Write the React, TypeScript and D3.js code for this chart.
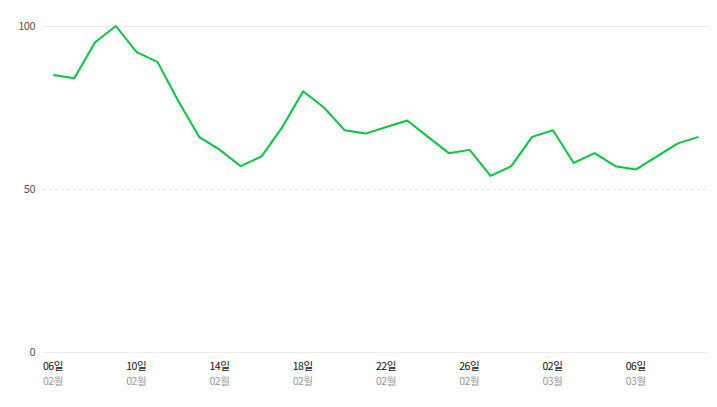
import * as d3 from 'd3'
import { useEffect, useRef } from 'react'

const fullWidth = 717
const fullHeight = 407
const margin = { top: 26, right: 8, bottom: 55, left: 43 }
const width = fullWidth - margin.left - margin.right
const height = fullHeight - margin.top - margin.bottom

// 2022-02-06 .. 2022-03-09, one point per day
const days = [
  '02-06', '02-07', '02-08', '02-09', '02-10', '02-11', '02-12', '02-13',
  '02-14', '02-15', '02-16', '02-17', '02-18', '02-19', '02-20', '02-21',
  '02-22', '02-23', '02-24', '02-25', '02-26', '02-27', '02-28', '03-01',
  '03-02', '03-03', '03-04', '03-05', '03-06', '03-07', '03-08', '03-09',
]
const values = [
  85, 84, 95, 100, 92, 89, 77, 66,
  62, 57, 60, 69, 80, 75, 68, 67,
  69, 71, 66, 61, 62, 54, 57, 66,
  68, 58, 61, 57, 56, 60, 64, 66,
]
const yTicks = [0, 50, 100]
const labelEvery = 4

export default function App() {
  const ref = useRef<SVGSVGElement>(null)

  useEffect(() => {
    const root = d3.select(ref.current)
    root.selectAll('*').remove()
    const svg = root.append('g').attr('transform', `translate(${margin.left}, ${margin.top})`)

    const xScale = d3.scaleBand().domain(days).range([0, width]).padding(0)
    const yScale = d3.scaleLinear().domain([0, 100]).range([height, 0])

    // grid
    svg
      .selectAll('line.grid')
      .data(yTicks)
      .enter()
      .append('line')
      .attr('x1', 0)
      .attr('x2', width)
      .attr('y1', (d) => yScale(d) + 0.5)
      .attr('y2', (d) => yScale(d) + 0.5)
      .attr('stroke', (d) => (d === 50 ? '#e4e4e4' : '#ebebeb'))
      .attr('stroke-dasharray', (d) => (d === 50 ? '3,3' : null))

    svg
      .selectAll('text.ytick')
      .data(yTicks)
      .enter()
      .append('text')
      .attr('x', -8)
      .attr('y', (d) => yScale(d) + 4)
      .attr('text-anchor', 'end')
      .attr('fill', '#555')
      .style('font-size', '11px')
      .text((d) => d)

    // x labels: day on top, month below
    const labelled = days.filter((_, i) => i % labelEvery === 0)
    const xl = svg
      .selectAll('g.xtick')
      .data(labelled)
      .enter()
      .append('g')
      .attr('transform', (d) => `translate(${xScale(d)}, ${height})`)
    xl.append('text')
      .attr('y', 18)
      .attr('fill', '#111')
      .style('font-size', '10.5px')
      .text((d) => d.slice(3) + '일')
    xl.append('text')
      .attr('y', 33)
      .attr('fill', '#999')
      .style('font-size', '10.5px')
      .text((d) => d.slice(0, 2) + '월')

    // line
    const line = d3
      .line<number>()
      .x((_, i) => xScale(days[i])! + xScale.bandwidth() / 2)
      .y((d) => yScale(d))
    svg
      .append('path')
      .datum(values)
      .attr('fill', 'none')
      .attr('stroke', '#00c73c')
      .attr('stroke-width', 2)
      .attr('stroke-linejoin', 'round')
      .attr('d', line)
  }, [])

  return (
    <svg
      ref={ref}
      width={fullWidth}
      height={fullHeight}
      style={{ position: 'absolute', left: 0, top: 0, fontFamily: '"Noto Sans CJK KR", sans-serif', letterSpacing: '-0.5px' }}
    />
  )
}
